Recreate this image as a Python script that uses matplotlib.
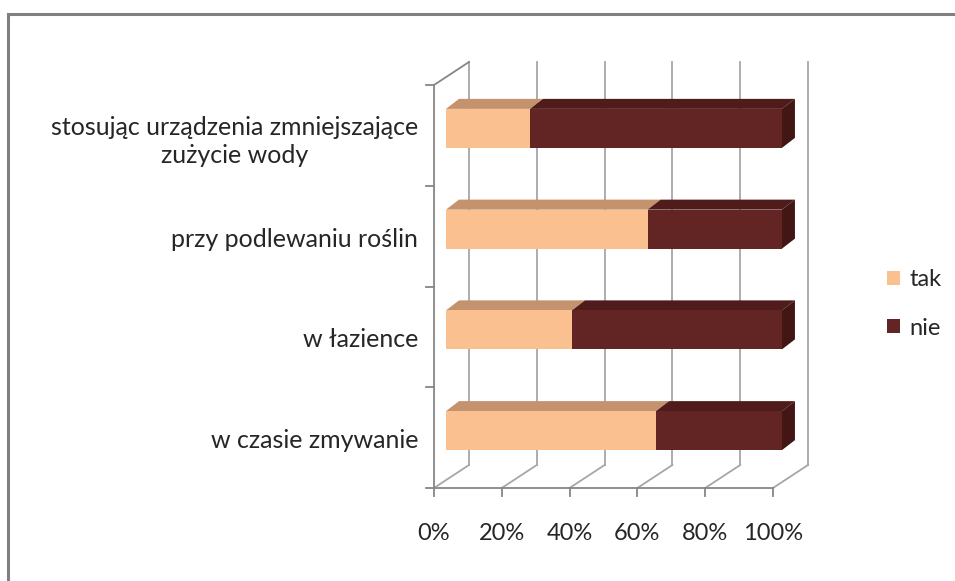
import matplotlib.pyplot as plt
from matplotlib.patches import Polygon, Patch
from matplotlib.lines import Line2D

plt.rcParams['font.family'] = ['Lato', 'DejaVu Sans']

# data (bottom to top)
categories = ['w czasie zmywanie', 'w łazience', 'przy podlewaniu roślin',
              'stosując urządzenia zmniejszające\nzużycie wody']
tak = [62.5, 37.5, 60, 25]
nie = [37.5, 62.5, 40, 75]
xticks = [0, 20, 40, 60, 80, 100]
xticklabels = ['0%', '20%', '40%', '60%', '80%', '100%']

c_tak, c_tak_top = '#FAC090', '#C4926C'
c_nie, c_nie_top, c_nie_side = '#632523', '#4F1C1B', '#421614'
grid_c = '#A6A6A6'
axis_c = '#868686'

fig = plt.figure(figsize=(9.55, 5.81), dpi=100)
ax = fig.add_axes([0, 0, 1, 1])
ax.axis('off')

# pixel -> data mapping: front 0% at x=434px, 100% at 773px; y=0 at 488px from top
px_x = 3.39
px_y = 100.75
ax.set_xlim(-434 / px_x, (955 - 434) / px_x)
ax.set_ylim(-(581 - 488) / px_y, 488 / px_y)

# 3d offsets
wall_dx, wall_dy = 35 / px_x, 23 / px_y      # front plane -> back wall
bar_dx0, bar_dy0 = 12 / px_x, 7 / px_y       # front plane -> bar front face
bar_ddx, bar_ddy = 13 / px_x, 10 / px_y      # bar depth
bar_sc = 0.991
bar_h = 19.5 / px_y
n = len(categories)

# back wall gridlines
for xt in xticks:
    ax.plot([xt + wall_dx, xt + wall_dx], [wall_dy, n + wall_dy], color=grid_c, lw=1.3, zorder=1)
    ax.plot([xt, xt + wall_dx], [0, wall_dy], color=grid_c, lw=1.3, zorder=1)
    ax.plot([xt, xt], [0, -8 / px_y], color=axis_c, lw=1.3, zorder=1)
ax.plot([0, 100], [0, 0], color=axis_c, lw=1.3, zorder=1)

# left wall
ax.plot([0, 0], [0, n], color=axis_c, lw=1.3, zorder=1)
ax.plot([0, wall_dx], [n, n + wall_dy], color=axis_c, lw=1.3, zorder=1)
for i in range(n + 1):
    ax.plot([-8 / px_x, 0], [i, i], color=axis_c, lw=1.3, zorder=1)

# bars
for i in range(n):
    yc = i + 0.5 + bar_dy0
    y0, y1 = yc - bar_h, yc + bar_h
    segs = [(0, tak[i], c_tak, c_tak_top), (tak[i], tak[i] + nie[i], c_nie, c_nie_top)]
    for a, b, cf, ct in segs:
        xa = bar_dx0 + a * bar_sc
        xb = bar_dx0 + b * bar_sc
        ax.add_patch(Polygon([(xa, y1), (xb, y1), (xb + bar_ddx, y1 + bar_ddy), (xa + bar_ddx, y1 + bar_ddy)],
                             closed=True, facecolor=ct, edgecolor='none', zorder=3))
        ax.add_patch(Polygon([(xa, y0), (xb, y0), (xb, y1), (xa, y1)],
                             closed=True, facecolor=cf, edgecolor='none', zorder=4))
    xe = bar_dx0 + (tak[i] + nie[i]) * bar_sc
    ax.add_patch(Polygon([(xe, y0), (xe + bar_ddx, y0 + bar_ddy), (xe + bar_ddx, y1 + bar_ddy), (xe, y1)],
                         closed=True, facecolor=c_nie_side, edgecolor='none', zorder=3))

# labels
for i, lab in enumerate(categories):
    ax.text(-16 / px_x, i + 0.5 - (6 / px_y if '\n' in lab else 3 / px_y), lab, ha='right', va='center',
            multialignment='center', fontsize=18, color='#262626', linespacing=1.3)
for xt, lab in zip(xticks, xticklabels):
    ax.text(xt, -45 / px_y, lab, ha='center', va='center', fontsize=17, color='#262626')

handles = [Patch(facecolor=c_tak, label='tak'), Patch(facecolor=c_nie, label='nie')]
fig.legend(handles=handles, loc='center left', bbox_to_anchor=(887 / 955, 1 - 304 / 581),
           frameon=False, fontsize=17, handlelength=0.55, handleheight=0.55, borderpad=0,
           borderaxespad=0, handletextpad=0.4, labelspacing=1.15, labelcolor='#262626')

# outer border
fig.add_artist(Line2D([8 / 955, 8 / 955], [0, 1 - 14 / 581], color='#808080', lw=2.2))
fig.add_artist(Line2D([8 / 955, 1], [1 - 14 / 581, 1 - 14 / 581], color='#808080', lw=2.2))

fig.savefig('out.png', dpi=100)
